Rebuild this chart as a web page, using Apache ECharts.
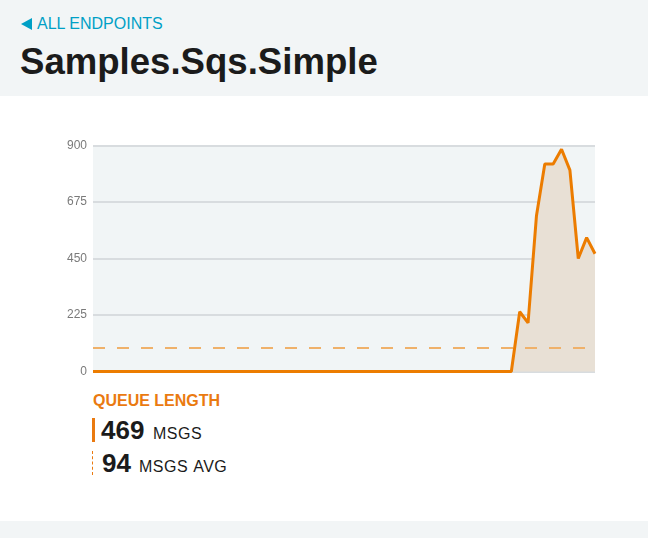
<!DOCTYPE html>
<html>
<head>
<meta charset="utf-8">
<script src="https://cdn.jsdelivr.net/npm/echarts@6/dist/echarts.min.js"></script>
<style>
  html, body { margin: 0; padding: 0; width: 648px; height: 538px; background: #ffffff; overflow: hidden;
    font-family: "Liberation Sans", Arial, sans-serif; }
  #header { position: absolute; left: 0; top: 0; width: 648px; height: 96px; background: #f2f5f6; }
  #back { position: absolute; left: 20px; top: 15px; font-size: 16px; color: #00a0c6; line-height: 18px; }
  #back .tri { position: absolute; left: 1px; top: 3px; width: 0; height: 0;
    border-top: 6px solid transparent; border-bottom: 6px solid transparent; border-right: 11px solid #00a0c6; }
  #back .txt { position: absolute; left: 17px; top: 0; white-space: nowrap; }
  #title { position: absolute; left: 20px; top: 41px; font-size: 36.6px; font-weight: bold; color: #1b1b1b; line-height: 42px; white-space: nowrap; }
  #chart { position: absolute; left: 0; top: 96px; width: 648px; height: 290px; }
  #footer { position: absolute; left: 0; top: 521px; width: 648px; height: 17px; background: #f2f5f6; }
  #metric { position: absolute; left: 93px; top: 392px; font-size: 16px; font-weight: bold; color: #ea7a10; white-space: nowrap; }
  .row { position: absolute; left: 92px; height: 24px; white-space: nowrap; }
  .row .big { position: absolute; bottom: -1px; font-size: 26px; font-weight: bold; color: #1b1b1b; line-height: 26px; }
  .row .unit { position: absolute; bottom: 0px; font-size: 16px; color: #1b1b1b; letter-spacing: 0.5px; line-height: 16px; }
  #cur { top: 418px; border-left: 3px solid #ea7a10; }
  #avg { top: 451px; border-left: 1px dashed #ea7a10; }
</style>
</head>
<body>
<div id="header">
  <div id="back"><span class="tri"></span><span class="txt">ALL ENDPOINTS</span></div>
  <div id="title">Samples.Sqs.Simple</div>
</div>
<div id="chart"></div>
<div id="metric">QUEUE LENGTH</div>
<div class="row" id="cur"><span class="big" id="curVal" style="left:6px"></span><span class="unit" id="curUnit" style="left:58px">MSGS</span></div>
<div class="row" id="avg"><span class="big" id="avgVal" style="left:9px"></span><span class="unit" id="avgUnit" style="left:46px; word-spacing:1px">MSGS AVG</span></div>
<div id="footer"></div>
<script>
// Data
const queueLength = [
  0, 0, 0, 0, 0, 0, 0, 0, 0, 0,
  0, 0, 0, 0, 0, 0, 0, 0, 0, 0,
  0, 0, 0, 0, 0, 0, 0, 0, 0, 0,
  0, 0, 0, 0, 0, 0, 0, 0, 0, 0,
  0, 0, 0, 0, 0, 0, 0, 0, 0, 0,
  0, 238, 194, 619, 826, 826, 885, 802, 450, 533,
  469
];
const categories = queueLength.map((_, i) => String(i));
const yTicks = [0, 225, 450, 675, 900];
const currentValue = 469;
const averageValue = 94;

document.getElementById('curVal').textContent = currentValue;
document.getElementById('avgVal').textContent = averageValue;

const chart = echarts.init(document.getElementById('chart'), null, { renderer: 'canvas' });
chart.setOption({
  animation: false,
  grid: {
    left: 93, top: 49.5, width: 502, height: 226,
    show: true, backgroundColor: '#f1f5f6', borderWidth: 0
  },
  xAxis: {
    type: 'category', data: categories, boundaryGap: false,
    axisLine: { show: false }, axisTick: { show: false }, axisLabel: { show: false }, splitLine: { show: false }
  },
  yAxis: {
    type: 'value', min: yTicks[0], max: yTicks[yTicks.length - 1], interval: yTicks[1] - yTicks[0],
    axisLine: { show: false }, axisTick: { show: false },
    axisLabel: { color: '#7a7a7a', fontSize: 12, margin: 6, fontFamily: 'Liberation Sans' },
    splitLine: { lineStyle: { color: '#d8dcdf', width: 2 } }
  },
  series: [{
    type: 'line',
    data: queueLength,
    symbol: 'none',
    lineStyle: { color: '#ec7c00', width: 3 },
    itemStyle: { color: '#ec7c00' },
    areaStyle: { color: '#e8e0d5', opacity: 1 },
    markLine: {
      silent: true, symbol: 'none', label: { show: false },
      lineStyle: { color: '#efb16a', type: [12, 12], width: 2 },
      data: [{ yAxis: averageValue }]
    }
  }]
});
</script>
</body>
</html>
